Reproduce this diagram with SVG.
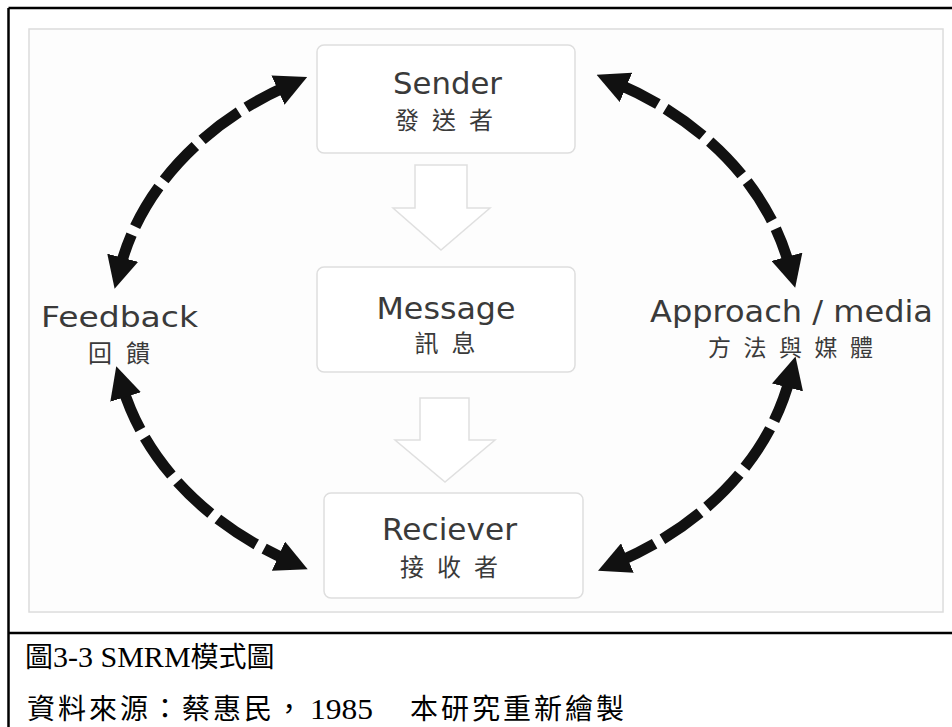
<svg xmlns="http://www.w3.org/2000/svg" width="952" height="727" viewBox="0 0 952 727">
  <style>
    .frame { stroke: #000; stroke-width: 2.5; fill: none; }
    .box { fill: #ffffff; stroke: #dedede; stroke-width: 1.5; }
    .hollow { fill: #ffffff; stroke: #e0e0e0; stroke-width: 1.5; stroke-linejoin: miter; }
    .en { font-family: "DejaVu Sans", "Liberation Sans", sans-serif; font-size: 30px; fill: #3a3a3a; text-anchor: middle; }
    .zh { font-family: "Noto Sans CJK TC", "Noto Sans CJK SC", sans-serif; font-size: 24px; fill: #3a3a3a; text-anchor: middle; }
    .cap { font-family: "Liberation Serif", "Noto Sans CJK TC", serif; font-size: 28px; fill: #000; }
    .lat { font-size: 30px; }
    .link { fill: none; stroke: #111; stroke-width: 11; stroke-dasharray: 46 9; marker-start: url(#head); marker-end: url(#head); }
  </style>
  <defs>
    <marker id="head" viewBox="0 0 32 32" markerUnits="userSpaceOnUse" markerWidth="32" markerHeight="32" refX="10" refY="16" orient="auto-start-reverse">
      <path d="M0,0 L32,16 L0,32 z" fill="#111"/>
    </marker>
  </defs>

  <rect x="0" y="0" width="952" height="727" fill="#ffffff"/>
  <g id="frame">
    <line class="frame" x1="8.5" y1="8" x2="8.5" y2="727"/>
    <line class="frame" x1="8.5" y1="8" x2="952" y2="8"/>
    <line class="frame" x1="8.5" y1="633" x2="952" y2="633"/>
  </g>
  <rect x="29" y="29" width="914" height="583" fill="#fdfdfd" stroke="#dcdcdc" stroke-width="1.5"/>

  <g id="connectors">
    <path class="link" d="M287.1,86 A342,272 0 0 0 120.2,267.4"/>
    <path class="link" d="M122.7,387.4 A342,272 0 0 0 287.6,560.2"/>
    <path class="link" d="M616.8,83.4 A342,272 0 0 1 789.5,266.4"/>
    <path class="link" d="M790,377.7 A342,272 0 0 1 618.2,562"/>
    <polygon class="hollow" points="415,165 467,165 467,208 490,208 441,250 393,208 415,208"/>
    <polygon class="hollow" points="420,398 469,398 469,440 495,440 445,482 395,440 420,440"/>
  </g>

  <g id="sender">
    <rect class="box" x="317" y="45" width="258" height="108" rx="7"/>
    <text class="en" x="447.5" y="94" textLength="109" lengthAdjust="spacingAndGlyphs">Sender</text>
    <text class="zh" x="444" y="129" textLength="98" lengthAdjust="spacing">發送者</text>
  </g>

  <g id="message">
    <rect class="box" x="317" y="267" width="258" height="105" rx="7"/>
    <text class="en" x="446" y="319" textLength="139" lengthAdjust="spacingAndGlyphs">Message</text>
    <text class="zh" x="445" y="352" textLength="61" lengthAdjust="spacing">訊息</text>
  </g>

  <g id="receiver">
    <rect class="box" x="324" y="493" width="259" height="105" rx="7"/>
    <text class="en" x="449.5" y="540" textLength="135" lengthAdjust="spacingAndGlyphs">Reciever</text>
    <text class="zh" x="449" y="576" textLength="98" lengthAdjust="spacing">接收者</text>
  </g>

  <g id="feedback">
    <text class="en" x="119.5" y="327" style="font-size:28px" textLength="157" lengthAdjust="spacingAndGlyphs">Feedback</text>
    <text class="zh" x="119" y="362" textLength="62" lengthAdjust="spacing">回饋</text>
  </g>

  <g id="approach">
    <text class="en" x="791.5" y="322" textLength="283" lengthAdjust="spacingAndGlyphs">Approach / media</text>
    <text class="zh" x="790.5" y="356" style="font-size:23px" textLength="165" lengthAdjust="spacing">方法與媒體</text>
  </g>

  <g id="caption">
    <text class="cap" x="25" y="667">圖<tspan class="lat">3-3 SMRM</tspan>模式圖</text>
    <text class="cap" x="27" y="719"><tspan letter-spacing="3">資料來源：蔡惠民，</tspan><tspan class="lat" x="310" textLength="63" lengthAdjust="spacingAndGlyphs">1985</tspan> <tspan x="410" letter-spacing="3">本研究重新繪製</tspan></text>
  </g>
</svg>
